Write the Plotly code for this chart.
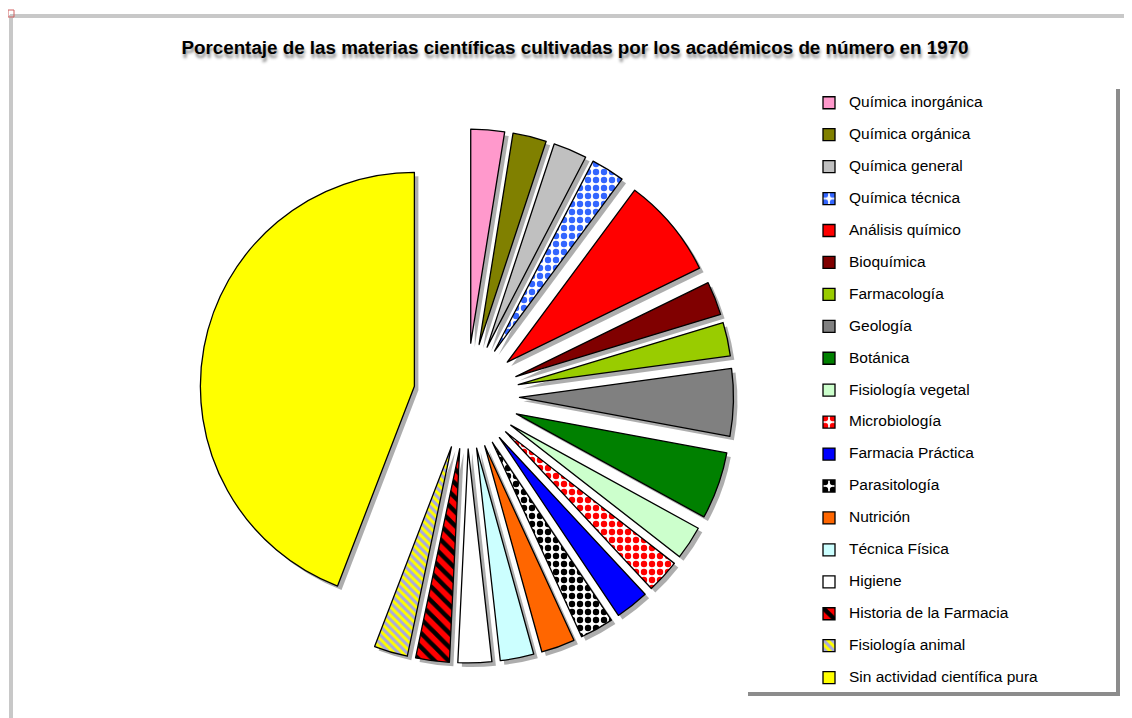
import plotly.graph_objects as go

# ---------------- data ----------------
labels = [
    "Química inorgánica", "Química orgánica", "Química general", "Química técnica",
    "Análisis químico", "Bioquímica", "Farmacología", "Geología", "Botánica",
    "Fisiología vegetal", "Microbiología", "Farmacia Práctica", "Parasitología",
    "Nutrición", "Técnica Física", "Higiene", "Historia de la Farmacia",
    "Fisiología animal", "Sin actividad científica pura",
]
values = [2.54, 2.54, 2.54, 2.54, 7.62, 2.54, 2.54, 5.08, 5.08, 2.54,
          2.54, 2.54, 2.54, 2.54, 2.54, 2.54, 2.54, 2.54, 44.18]
colors = ["#FF99CC", "#808000", "#C0C0C0", "#3366FF", "#FF0000", "#800000",
          "#99CC00", "#808080", "#008000", "#CCFFCC", "#FF0000", "#0000FF",
          "#000000", "#FF6600", "#CCFFFF", "#FFFFFF", "#FF0000", "#FFFF00", "#FFFF00"]
pattern_shapes = ["", "", "", ".", "", "", "", "", "", "", ".", "", ".", "", "", "",
                  "\\", "\\", ""]
pattern_fg = ["#000000", "#000000", "#000000", "#3366FF", "#000000", "#000000",
              "#000000", "#000000", "#000000", "#000000", "#FF0000", "#000000",
              "#000000", "#000000", "#000000", "#000000", "#000000", "#A8A8E0", "#000000"]
pattern_bg = ["#FF99CC", "#808000", "#C0C0C0", "#FFFFFF", "#FF0000", "#800000",
              "#99CC00", "#808080", "#008000", "#CCFFCC", "#FFFFFF", "#0000FF",
              "#FFFFFF", "#FF6600", "#CCFFFF", "#FFFFFF", "#FF0000", "#FFFF00", "#FFFF00"]
pattern_size = [8, 8, 8, 8, 8, 8, 8, 8, 8, 8, 8, 8, 8, 8, 8, 8, 10, 6, 8]
pattern_solidity = [0.5, 0.5, 0.5, 0.5, 0.5, 0.5, 0.5, 0.5, 0.5, 0.5, 0.5, 0.5,
                    0.5, 0.5, 0.5, 0.5, 0.45, 0.5, 0.5]

title_text = "Porcentaje de las materias científicas cultivadas por los académicos de número en 1970"

# ---------------- geometry helpers (page px -> paper) ----------------
W, H = 1124, 710
OFF = 8


def px(X):
    return (X - OFF) / W


def py(Y):
    return 1 - (Y - OFF) / H


cx, cy, R, pull_px = 466.5, 396, 214, 53
pull = pull_px / R
half = R * (1 + pull)
sh = 4  # shadow offset

legend_labels = [f'<span style="font-size:15.5px">{l}</span><br> ' for l in labels]

fig = go.Figure()

# shadow pie
fig.add_trace(go.Pie(
    labels=legend_labels, values=values, sort=False, direction="clockwise", rotation=0,
    pull=[pull] * len(values), textinfo="none", hoverinfo="skip", showlegend=False,
    marker=dict(colors=["rgba(0,0,0,0.32)"] * len(values), line=dict(width=0)),
    domain=dict(x=[px(cx - half + sh), px(cx + half + sh)],
                y=[py(cy + half + sh), py(cy - half + sh)]),
))

# main pie
fig.add_trace(go.Pie(
    labels=legend_labels, values=values, sort=False, direction="clockwise", rotation=0,
    pull=[pull] * len(values), textinfo="none", customdata=labels,
    hovertemplate="%{customdata}: %{value}%<extra></extra>",
    marker=dict(
        colors=colors, line=dict(color="#000000", width=1.3),
        pattern=dict(shape=pattern_shapes, fgcolor=pattern_fg, bgcolor=pattern_bg,
                     size=pattern_size, solidity=pattern_solidity, fillmode="replace"),
    ),
    domain=dict(x=[px(cx - half), px(cx + half)], y=[py(cy + half), py(cy - half)]),
))

shapes = [
    # outer frame (top and left edges)
    dict(type="rect", xref="paper", yref="paper", x0=px(10), x1=px(1140), y0=py(14), y1=py(18),
         fillcolor="#C8C8C8", line=dict(width=0), layer="below"),
    dict(type="rect", xref="paper", yref="paper", x0=px(9), x1=px(13), y0=py(15), y1=py(730),
         fillcolor="#C8C8C8", line=dict(width=0), layer="below"),
    dict(type="rect", xref="paper", yref="paper", x0=px(8), x1=px(14), y0=py(10), y1=py(17),
         fillcolor="rgba(255,255,255,0)", line=dict(width=1, color="#D06060"), layer="above"),
    # legend box shadow + box
    dict(type="rect", xref="paper", yref="paper", x0=px(748), x1=px(1120), y0=py(89), y1=py(696),
         fillcolor="#8C8C8C", line=dict(width=0), layer="below"),
    dict(type="rect", xref="paper", yref="paper", x0=px(740), x1=px(1116), y0=py(80), y1=py(692),
         fillcolor="#FFFFFF", line=dict(width=0), layer="below"),
]

fig.update_layout(
    width=W, height=H,
    margin=dict(l=0, r=0, t=0, b=0),
    paper_bgcolor="#FFFFFF", plot_bgcolor="#FFFFFF",
    font=dict(family="Arial, Liberation Sans, sans-serif", color="#000000"),
    title=dict(
        text=f"<b>{title_text}</b>", xref="container", yref="container",
        x=px(575), xanchor="center", y=py(47), yanchor="middle",
        font=dict(size=18.8, family="Arial, Liberation Sans, sans-serif", color="#000000",
                  shadow="1px 4px 3px rgba(0,0,0,0.45)"),
    ),
    legend=dict(
        x=px(809), xanchor="left", y=py(89), yanchor="top",
        font=dict(size=11.13, family="Arial, Liberation Sans, sans-serif", color="#000000"),
        bgcolor="rgba(0,0,0,0)", borderwidth=0, valign="top",
        traceorder="normal",
    ),
    shapes=shapes,
)

fig.write_html("out.html")
